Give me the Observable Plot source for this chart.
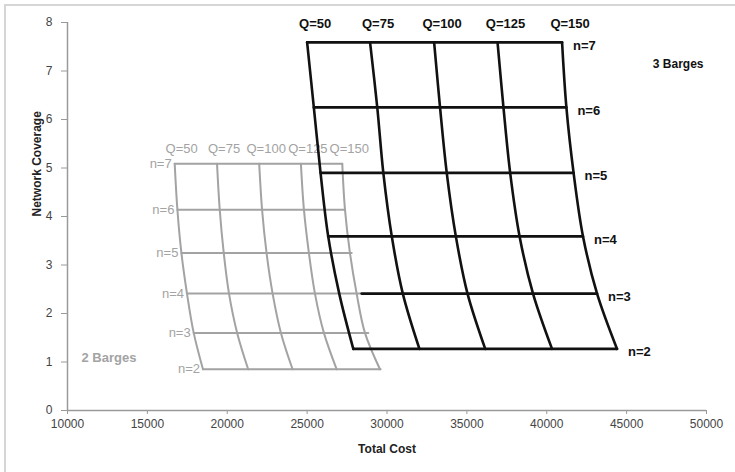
<!DOCTYPE html>
<html><head><meta charset="utf-8">
<script src="https://cdn.jsdelivr.net/npm/d3@7"></script>
<script src="https://cdn.jsdelivr.net/npm/@observablehq/plot@0.6"></script>
<style>
body{margin:0;background:#fff;}
#wrap{position:relative;width:735px;height:472px;overflow:hidden;}
#frame{position:absolute;left:4px;top:4px;width:760px;height:500px;border-top:2px solid #d6d6d6;border-left:2px solid #d6d6d6;pointer-events:none}
</style></head><body><div id="wrap"><div id="frame"></div></div>
<script>
// Levels and labels
const nLabels = ["n=7", "n=6", "n=5", "n=4", "n=3", "n=2"];
const qLabels = ["Q=50", "Q=75", "Q=100", "Q=125", "Q=150"];
const xTicks = [10000, 15000, 20000, 25000, 30000, 35000, 40000, 45000, 50000];
const yTicks = [0, 1, 2, 3, 4, 5, 6, 7, 8];

// 3 barges: network coverage per n (n=7..2) and total cost per Q
const cov3 = [7.59, 6.25, 4.90, 3.59, 2.41, 1.27];
const cost3_Q50  = [25000, 25420, 25840, 26320, 27010, 27890];
const cost3_Q75  = [28940, 29390, 29770, 30300, 30990, 32030];
const cost3_Q100 = [32950, 33320, 33740, 34310, 35040, 36150];
const cost3_Q125 = [36920, 37290, 37710, 38300, 39140, 40330];
const cost3_Q150 = [40960, 41230, 41680, 42270, 43150, 44400];
const row3Start  = [25000, 25420, 25840, 26320, 28410, 27890];
const row3End    = [40960, 41230, 41680, 42270, 43150, 44400];

// 2 barges
const cov2 = [5.09, 4.14, 3.25, 2.41, 1.60, 0.85];
const cost2_Q50  = [16710, 16880, 17130, 17480, 17900, 18480];
const cost2_Q75  = [19360, 19530, 19780, 20110, 20620, 21310];
const cost2_Q100 = [22000, 22180, 22460, 22840, 23360, 24090];
const cost2_Q125 = [24610, 24800, 25110, 25490, 26050, 26850];
const cost2_Q150 = [27200, 27370, 27680, 28100, 28620, 29560];
const row2Start  = [16710, 16880, 17130, 17480, 17900, 18480];
const row2End    = [27200, 27370, 27790, 28310, 28830, 29600];

function colTable(cols, cov) {
  const out = [];
  cols.forEach((c, qi) => c.forEach((x, i) => out.push({q: qLabels[qi], cost: x, cov: cov[i]})));
  return out;
}
function rowTable(start, end, cov) {
  const out = [];
  cov.forEach((v, i) => { out.push({n: nLabels[i], cost: start[i], cov: v}); out.push({n: nLabels[i], cost: end[i], cov: v}); });
  return out;
}
const cols3 = [cost3_Q50, cost3_Q75, cost3_Q100, cost3_Q125, cost3_Q150];
const cols2 = [cost2_Q50, cost2_Q75, cost2_Q100, cost2_Q125, cost2_Q150];
const colData3 = colTable(cols3, cov3), colData2 = colTable(cols2, cov2);
const rowData3 = rowTable(row3Start, row3End, cov3), rowData2 = rowTable(row2Start, row2End, cov2);
const qTop3 = cols3.map((c, i) => ({t: qLabels[i], cost: c[0], cov: cov3[0]}));
const qTop2 = cols2.map((c, i) => ({t: qLabels[i], cost: c[0], cov: cov2[0]}));
const nEnd3 = cov3.map((v, i) => ({t: nLabels[i], cost: row3End[i], cov: v}));
const nStart2 = cov2.map((v, i) => ({t: nLabels[i], cost: row2Start[i], cov: v}));

const BLACK = "#111", GRAY = "#a3a3a3", AXIS = "#9a9a9a";
const font = "'Liberation Sans', Arial, sans-serif";

const chart = Plot.plot({
  width: 735, height: 472,
  marginLeft: 67, marginRight: 29, marginTop: 22, marginBottom: 62,
  style: {fontFamily: font, fontSize: "12px", background: "transparent", overflow: "visible"},
  x: {domain: [10000, 50000]},
  y: {domain: [0, 8]},
  marks: [
    Plot.ruleY([0], {stroke: AXIS, strokeWidth: 1.5}),
    Plot.ruleX([10000], {stroke: AXIS, strokeWidth: 1.5}),
    Plot.axisX({ticks: xTicks, tickFormat: d3.format("d"), tickSize: 4, tickPadding: 5, stroke: AXIS, fill: "#444", label: null}),
    Plot.axisY({ticks: yTicks, tickFormat: d3.format("d"), tickSize: 6, tickPadding: 9, stroke: AXIS, fill: "#444", label: null}),
    Plot.text(["Total Cost"], {frameAnchor: "bottom", dy: 42, fontWeight: "bold", fontSize: 12, fill: "#222"}),
    Plot.text(["Network Coverage"], {frameAnchor: "left", dx: -30, rotate: -90, fontWeight: "bold", fontSize: 12, fill: "#222"}),
    // 2 barges (gray)
    Plot.line(rowData2, {x: "cost", y: "cov", z: "n", stroke: GRAY, strokeWidth: 2}),
    Plot.line(colData2, {x: "cost", y: "cov", z: "q", stroke: GRAY, strokeWidth: 2, curve: "catmull-rom"}),
    Plot.text(qTop2, {x: "cost", y: "cov", text: "t", dx: 7, dy: -15, fill: GRAY, fontSize: 13}),
    Plot.text(nStart2, {x: "cost", y: "cov", text: "t", dx: -3, textAnchor: "end", fill: GRAY, fontSize: 13}),
    Plot.text(["2 Barges"], {frameAnchor: "bottom-left", dx: 14, dy: -49, textAnchor: "start", fill: GRAY, fontSize: 13, fontWeight: "bold"}),
    // 3 barges (black)
    Plot.line(rowData3, {x: "cost", y: "cov", z: "n", stroke: BLACK, strokeWidth: 2.6}),
    Plot.line(colData3, {x: "cost", y: "cov", z: "q", stroke: BLACK, strokeWidth: 2.6, curve: "catmull-rom"}),
    Plot.text(qTop3, {x: "cost", y: "cov", text: "t", dx: 8, dy: -19, fill: BLACK, fontSize: 13, fontWeight: "bold"}),
    Plot.text(nEnd3, {x: "cost", y: "cov", text: "t", dx: 11, dy: 3, textAnchor: "start", fill: BLACK, fontSize: 13, fontWeight: "bold"}),
    Plot.text(["3 Barges"], {frameAnchor: "top-right", dx: -3, dy: 37, textAnchor: "end", fill: BLACK, fontSize: 12, fontWeight: "bold"})
  ]
});
document.getElementById("wrap").appendChild(chart);
chart.style.position = "absolute"; chart.style.left = "0"; chart.style.top = "0";
</script>
</body></html>
